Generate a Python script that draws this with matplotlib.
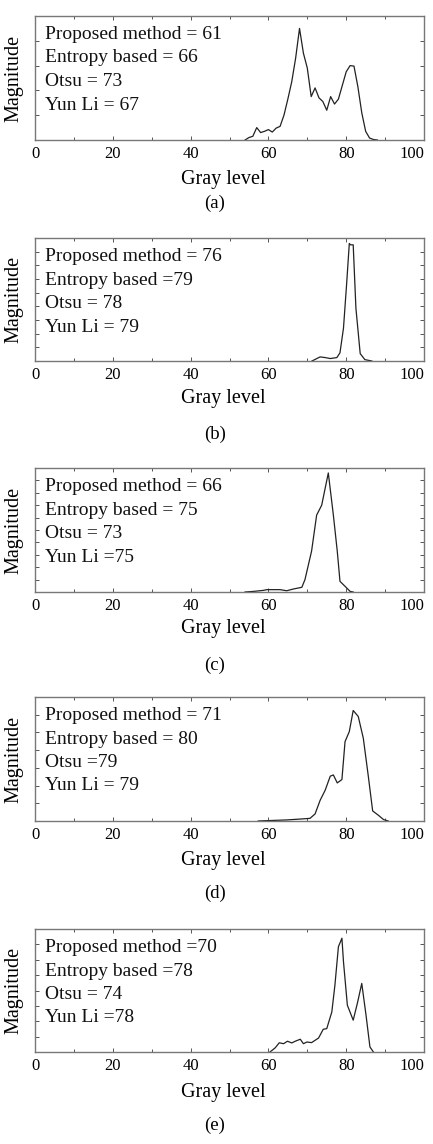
import matplotlib.pyplot as plt
from matplotlib.ticker import MultipleLocator
from matplotlib.transforms import ScaledTranslation

plt.rcParams['font.family'] = ['Liberation Serif', 'DejaVu Serif']

# histogram readings (gray level, magnitude in tick units)
x_a = [54, 55, 56, 57, 58, 59, 60, 61, 62, 63, 64, 65, 66, 67, 68, 69, 70, 71, 72,
       73, 74, 75, 76, 77, 78, 79, 80, 81, 82, 83, 84, 85, 86, 87, 88]
y_a = [0, 0.1, 0.15, 0.5, 0.3, 0.35, 0.42, 0.32, 0.48, 0.55, 1.0, 1.65, 2.35, 3.3,
       4.5, 3.5, 2.9, 1.75, 2.1, 1.7, 1.55, 1.2, 1.75, 1.45, 1.65, 2.2, 2.75, 3.0,
       2.98, 2.15, 1.1, 0.35, 0.08, 0.02, 0]

x_b = [71.2, 73.3, 74.6, 75.9, 77.6, 78.4, 79.3, 80.1, 80.8, 81.1, 81.8, 82.5, 83.6,
       84.8, 86.6]
y_b = [0, 0.3, 0.25, 0.18, 0.25, 0.6, 2.4, 5.6, 8.6, 8.5, 8.5, 3.85, 0.54, 0.1, 0]

x_c = [54, 56.2, 58.7, 59.6, 63, 64.7, 66.4, 68.6, 69.4, 71.1, 72.4, 73.7, 75.4,
       76.7, 77.7, 78.4, 79.7, 81, 81.8]
y_c = [0, 0.05, 0.13, 0.19, 0.19, 0.1, 0.24, 0.38, 1.0, 3.3, 6.2, 7.0, 9.6, 6.2,
       3.3, 0.86, 0.46, 0.05, 0]

x_d = [57.4, 59.6, 62.2, 64.7, 68.2, 70.7, 72, 73.3, 74.6, 75.9, 76.7, 77.7, 78.9,
       79.7, 80.8, 81.8, 83.1, 84.4, 85.7, 86.8, 88.3, 89.6, 90.8]
y_d = [0, 0.02, 0.04, 0.06, 0.11, 0.15, 0.4, 1.17, 1.74, 2.53, 2.6, 2.15, 2.34,
       4.48, 5.05, 6.24, 5.9, 4.67, 2.5, 0.57, 0.32, 0.08, 0]

x_e = [60.4, 61.7, 62.8, 63.9, 64.9, 66, 66.9, 68.2, 69, 69.9, 71.1, 72.9, 74.1,
       75, 76.3, 77.1, 78, 78.9, 79.3, 80.3, 81.8, 82.9, 84, 85.1, 86.1, 87]
y_e = [0, 0.26, 0.6, 0.54, 0.7, 0.59, 0.7, 0.83, 0.54, 0.65, 0.61, 0.91, 1.48,
       1.52, 2.6, 4.35, 6.85, 7.4, 5.87, 3.04, 2.07, 3.2, 4.46, 2.39, 0.33, 0]

xs = [x_a, x_b, x_c, x_d, x_e]
ys = [y_a, y_b, y_c, y_d, y_e]
y_top = [5, 9, 10, 7, 8]
x_ticks = [0, 20, 40, 60, 80, 100]
captions = ['(a)', '(b)', '(c)', '(d)', '(e)']
notes = [
    ['Proposed method = 61', 'Entropy based = 66', 'Otsu = 73', 'Yun Li = 67'],
    ['Proposed method = 76', 'Entropy based =79', 'Otsu = 78', 'Yun Li = 79'],
    ['Proposed method = 66', 'Entropy based = 75', 'Otsu = 73', 'Yun Li =75'],
    ['Proposed method = 71', 'Entropy based = 80', 'Otsu =79', 'Yun Li = 79'],
    ['Proposed method =70', 'Entropy based =78', 'Otsu = 74', 'Yun Li =78'],
]

W, H = 433, 1144
fig = plt.figure(figsize=(W / 100, H / 100), dpi=100)

# pixel layout: axes top, axes bottom, x-label centre, caption centre
boxes = [(16, 140, 180, 203), (238, 361, 398, 434), (468, 592, 628, 665),
         (697, 821, 860, 893), (929, 1052, 1092, 1125)]
left, right = 35, 424

for i in range(5):
    top, bot, lab_y, cap_y = boxes[i]
    ax = fig.add_axes([left / W, 1 - bot / H, (right - left) / W, (bot - top) / H])
    ax.plot(xs[i], ys[i], color='#222222', lw=0.9)
    ax.set_xlim(0, 100)
    ax.set_ylim(0, y_top[i])
    ax.set_xticks(x_ticks)
    labels = ax.set_xticklabels([str(t) for t in x_ticks])
    for lbl in labels[:-1]:
        lbl.set_transform(lbl.get_transform() + ScaledTranslation(-0.03, 0, fig.dpi_scale_trans))
    labels[-1].set_horizontalalignment('right')
    labels[-1].set_transform(labels[-1].get_transform() + ScaledTranslation(0.01, 0, fig.dpi_scale_trans))
    ax.xaxis.set_minor_locator(MultipleLocator(10))
    ax.yaxis.set_major_locator(MultipleLocator(1))
    ax.set_yticklabels([])
    ax.tick_params(direction='in', top=True, right=True, length=3, width=0.7,
                   color='#555555', labelsize=12, pad=4)
    ax.tick_params(which='minor', direction='in', top=True, length=2.5, width=0.7,
                   color='#555555')
    for s in ax.spines.values():
        s.set_color('#777777')
        s.set_linewidth(1.0)
    ax.set_ylabel('Magnitude', fontsize=14.5, labelpad=4)
    fig.text(223 / W, 1 - lab_y / H, 'Gray level', fontsize=14.5, ha='center', va='center')
    for j, line in enumerate(notes[i]):
        yb = top + 23 + 23.5 * j
        fig.text(45 / W, 1 - yb / H, line, fontsize=14, ha='left', va='baseline',
                 color='#111111')
    fig.text(215 / W, 1 - cap_y / H, captions[i], fontsize=13.5, ha='center', va='center')

fig.savefig('out.png', dpi=100)
